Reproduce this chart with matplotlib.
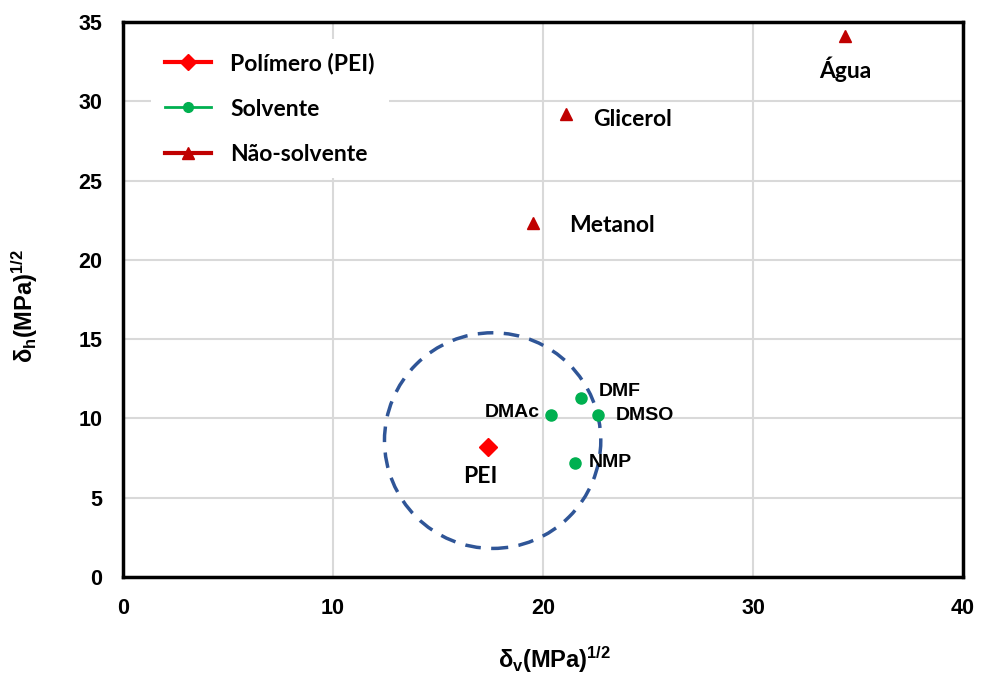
import matplotlib
matplotlib.use('Agg')
import matplotlib.pyplot as plt
from matplotlib.lines import Line2D
from matplotlib.patches import Ellipse

plt.rcParams['font.family'] = ['Liberation Sans', 'DejaVu Sans']
plt.rcParams['mathtext.fontset'] = 'custom'
plt.rcParams['mathtext.rm'] = 'Liberation Sans:bold'
plt.rcParams['mathtext.it'] = 'Liberation Sans:bold'
plt.rcParams['mathtext.bf'] = 'Liberation Sans:bold'

# data
pol_names = ['PEI']
pol_dv = [17.4]
pol_dh = [8.2]

solv_names = ['DMAc', 'DMF', 'DMSO', 'NMP']
solv_dv = [20.4, 21.8, 22.6, 21.5]
solv_dh = [10.2, 11.3, 10.2, 7.2]

nons_names = ['Metanol', 'Glicerol', 'Água']
nons_dv = [19.5, 21.1, 34.4]
nons_dh = [22.3, 29.2, 34.1]

circle_center = (17.6, 8.6)
circle_r = (5.15, 6.8)   # x and y half-widths (data units)

xticks = [0, 10, 20, 30, 40]
yticks = [0, 5, 10, 15, 20, 25, 30, 35]

red = '#FF0000'
green = '#00B050'
dkred = '#C00000'

fig = plt.figure(figsize=(9.81, 6.78), dpi=100)
ax = fig.add_axes([0.1254, 0.149, 0.8563, 0.8186])

ax.set_xlim(0, 40)
ax.set_ylim(0, 35)
ax.set_xticks(xticks)
ax.set_yticks(yticks)
ax.tick_params(length=0, labelsize=15.5, pad=15)
for lab in ax.get_xticklabels() + ax.get_yticklabels():
    lab.set_fontweight('bold')
ax.grid(True, color='#D9D9D9', lw=1.5)
ax.set_axisbelow(True)
for s in ax.spines.values():
    s.set_color('black')
    s.set_linewidth(2.5)

ax.add_patch(Ellipse(circle_center, 2 * circle_r[0], 2 * circle_r[1], fill=False,
                     edgecolor='#2F5597', lw=2.5, ls=(0, (4.5, 3)), zorder=2))

ax.plot(pol_dv, pol_dh, ls='none', marker='D', ms=9, color=red, zorder=3)
ax.plot(solv_dv, solv_dh, ls='none', marker='o', ms=8, color=green, zorder=3)
ax.plot(nons_dv, nons_dh, ls='none', marker='^', ms=9, color=dkred, zorder=3)

lato = ['Lato', 'DejaVu Sans']
# label offsets in pixels (ha, dx, dy)
pol_off = {'PEI': ('center', -8, -30)}
solv_off = {'DMAc': ('right', -12, 3), 'DMF': ('left', 18, 6),
            'DMSO': ('left', 18, 0), 'NMP': ('left', 14, 0)}
nons_off = {'Metanol': ('left', 37, -2), 'Glicerol': ('left', 27, -6),
            'Água': ('center', 0, -33)}

for n, x, y in zip(pol_names, pol_dv, pol_dh):
    ha, dx, dy = pol_off[n]
    ax.annotate(n, (x, y), xytext=(dx, dy), textcoords='offset pixels', ha=ha,
                va='center', fontsize=16.5, fontweight='bold', family=lato)
for n, x, y in zip(solv_names, solv_dv, solv_dh):
    ha, dx, dy = solv_off[n]
    ax.annotate(n, (x, y), xytext=(dx, dy), textcoords='offset pixels', ha=ha,
                va='center', fontsize=14, fontweight='bold')
for n, x, y in zip(nons_names, nons_dv, nons_dh):
    ha, dx, dy = nons_off[n]
    ax.annotate(n, (x, y), xytext=(dx, dy), textcoords='offset pixels', ha=ha,
                va='center', fontsize=16.5, fontweight='bold', family=lato)

handles = [Line2D([], [], color=red, lw=3, marker='D', ms=8),
           Line2D([], [], color=green, lw=2, marker='o', ms=7),
           Line2D([], [], color=dkred, lw=3, marker='^', ms=9)]
labels = ['Polímero (PEI)', 'Solvente', 'Não-solvente']
leg = ax.legend(handles, labels, loc='upper left', bbox_to_anchor=(0.02, 0.99),
                frameon=True, facecolor='white', edgecolor='none', framealpha=1,
                fancybox=False, handlelength=2.0, handletextpad=0.85,
                labelspacing=1.05, borderpad=0.6,
                prop={'family': lato, 'weight': 'bold', 'size': 16.5})

ax.set_xlabel(r'$\delta_v(MPa)^{1/2}$', fontsize=17)
ax.set_ylabel(r'$\delta_h(MPa)^{1/2}$', fontsize=17)
ax.xaxis.set_label_coords(0.514, -0.122)
ax.yaxis.set_label_coords(-0.099, 0.488)

plt.savefig('out.png', dpi=100)
